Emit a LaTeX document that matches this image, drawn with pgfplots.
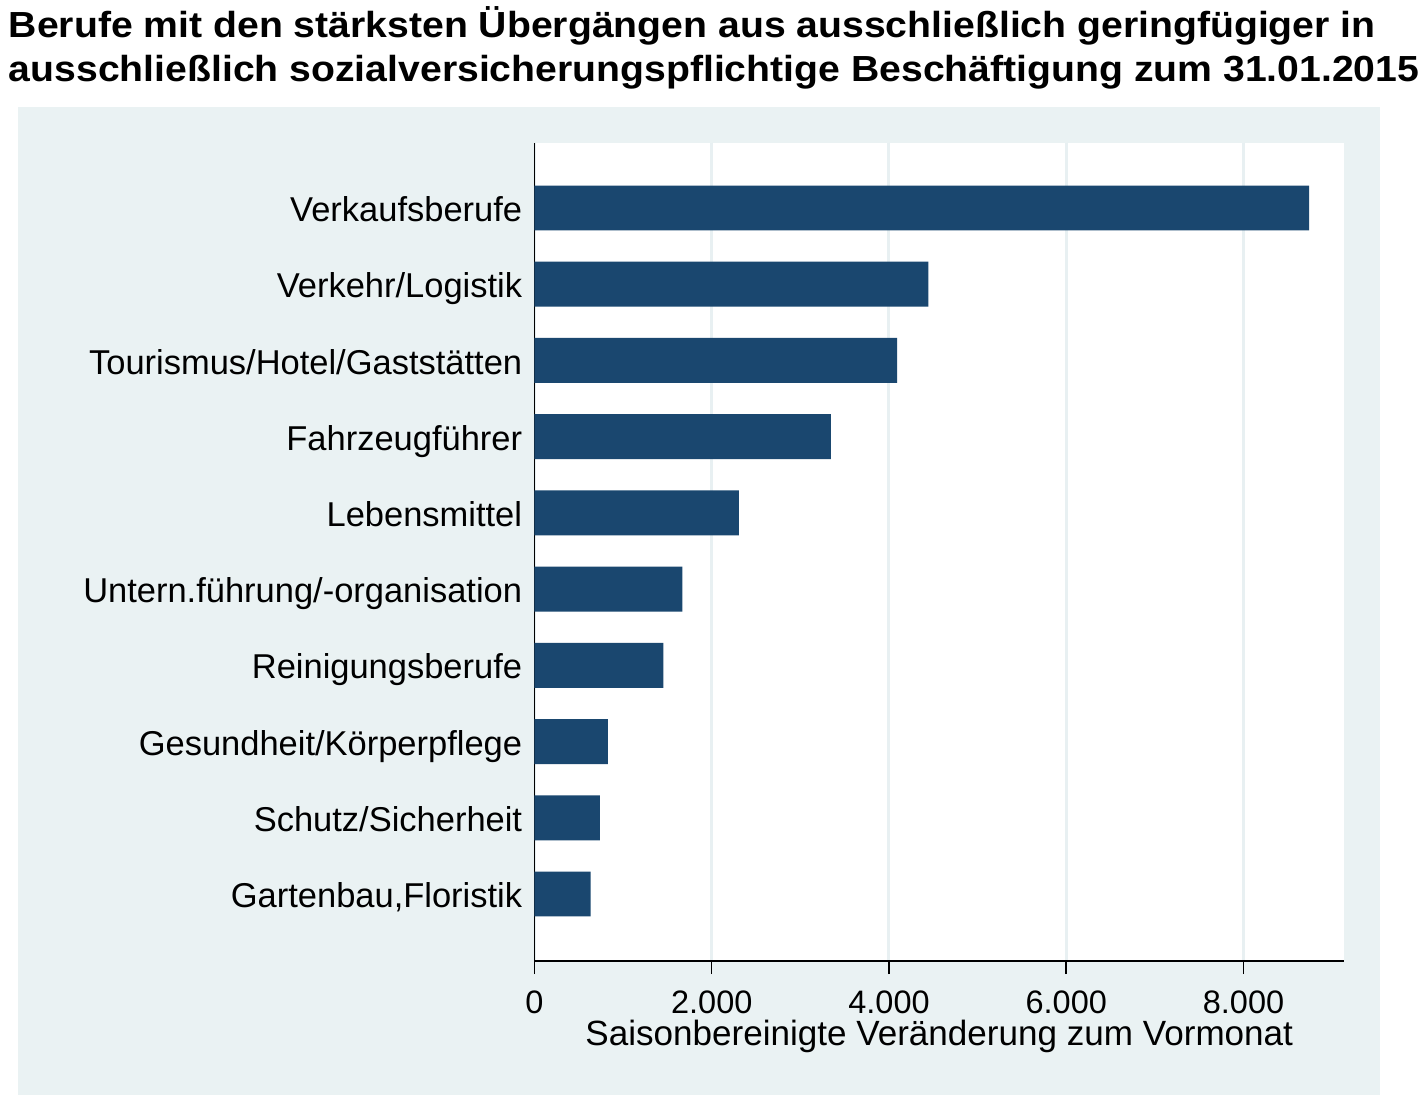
\documentclass[border=0pt]{standalone}
\usepackage{fontspec}
\setmainfont{Liberation Sans}
\usepackage{pgfplots}
\pgfplotsset{compat=1.18}
\definecolor{panel}{HTML}{EAF2F3}
\definecolor{barc}{HTML}{1A476F}
\definecolor{gridc}{HTML}{E8F0F2}
\begin{document}
\begin{tikzpicture}[x=1bp,y=1bp]
\useasboundingbox (-267.25,-74.5) rectangle (445.75,480.5);
\fill[panel] (-258.25,-67) rectangle (422.75,427);
\node[anchor=base west, inner sep=0pt, font=\bfseries\fontsize{18.2}{22}\selectfont] at (-263,461.5) {\scalebox{1.08}[1]{Berufe mit den stärksten Übergängen aus ausschließlich geringfügiger in}};
\node[anchor=base west, inner sep=0pt, font=\bfseries\fontsize{18.2}{22}\selectfont] at (-263,439.5) {\scalebox{1.08}[1]{ausschließlich sozialversicherungspflichtige Beschäftigung zum 31.01.2015}};
\begin{axis}[
  at={(0,0)}, anchor=south west,
  scale only axis, width=404.75bp, height=409bp,
  axis background/.style={fill=white},
  xbar, bar width=0.59,
  xmin=0, xmax=9134, ymin=-0.853, ymax=9.879, y dir=reverse,
  axis x line*=bottom, axis y line*=left,
  axis line style={-, black, line width=0.75bp},
  xmajorgrids, grid style={gridc, line width=1.5bp},
  xtick={0,2000,4000,6000,8000},
  xticklabels={0,2.000,4.000,6.000,8.000},
  tick align=outside, major tick length=6.5bp,
  x tick style={black, line width=0.75bp},
  xticklabel style={anchor=base, inner sep=0pt, yshift=-19.5bp, font=\fontsize{16.3}{18}\selectfont},
  ytick={0,...,9},
  y tick style={draw=none},
  yticklabels={Verkaufsberufe,Verkehr/Logistik,Tourismus/Hotel/Gaststätten,Fahrzeugführer,Lebensmittel,Untern.führung/-organisation,Reinigungsberufe,Gesundheit/Körperpflege,Schutz/Sicherheit,{Gartenbau,Floristik}},
  yticklabel style={anchor=base east, inner sep=0pt, xshift=0.5bp, yshift=-6.8bp, font=\fontsize{17.3}{20}\selectfont},
  xlabel={Saisonbereinigte Veränderung zum Vormonat},
  xlabel style={at={(axis description cs:0.5,0)}, anchor=base, inner sep=0pt, yshift=-42bp, font=\fontsize{17.6}{20}\selectfont},
]
\addplot[fill=barc, draw=none] coordinates {
(8740,0) (4443,1) (4093,2) (3345,3) (2307,4) (1668,5) (1453,6) (829,7) (739,8) (634,9)
};
\end{axis}
\end{tikzpicture}
\end{document}
